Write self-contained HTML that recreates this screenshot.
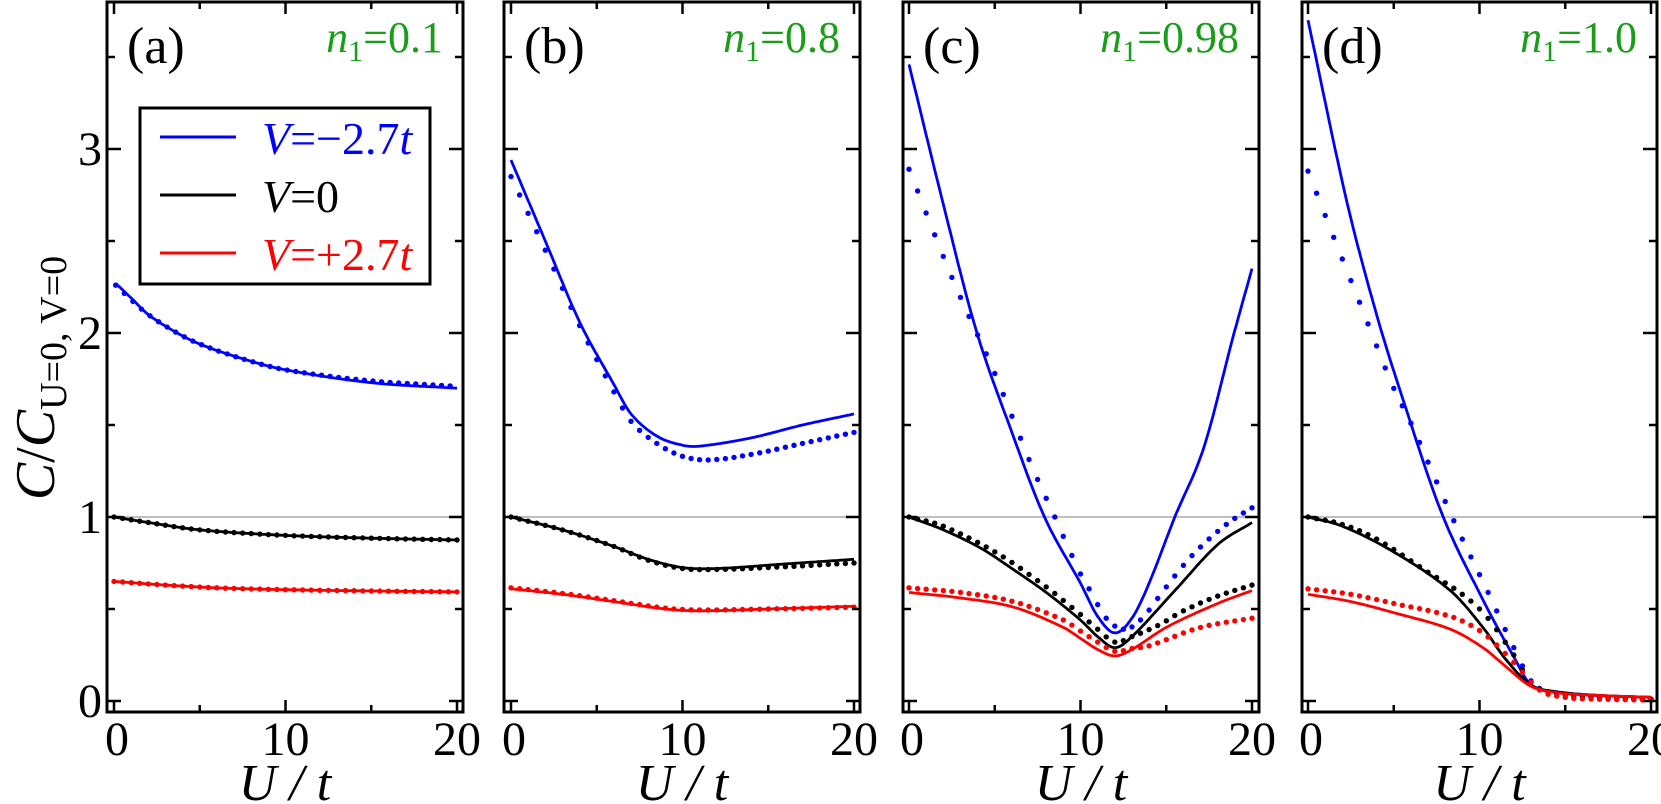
<!DOCTYPE html>
<html><head><meta charset="utf-8"><style>
html,body{margin:0;padding:0;background:#fff;}
svg{display:block;}
</style></head><body>
<svg id="s" width="1661" height="804" viewBox="0 0 1661 804" xmlns="http://www.w3.org/2000/svg" font-family="Liberation Serif, serif"></svg>
<script>
const S=document.getElementById('s');
const F='font-family="Liberation Serif, serif"';
let h='';
const panels=[
 {L:107,R:463,x0:114,lab:'(a)',n:'0.1'},
 {L:504,R:860,x0:511,lab:'(b)',n:'0.8'},
 {L:903,R:1259,x0:909,lab:'(c)',n:'0.98'},
 {L:1302,R:1657,x0:1308,lab:'(d)',n:'1.0'}];
const T=2,B=712,sx=17.15;
const Y=v=>701-v*184;
const B_='#0000ff',K='#000',Rd='#ff0000';
const data=[
 [
  [B_,0,[[0.1,2.27],[1,2.19],[2,2.1],[3.5,2.01],[5,1.94],[7.5,1.86],[10,1.8],[15,1.73],[20,1.7]]],
  [B_,1,[[0.1,2.26],[1,2.18],[2,2.1],[3.5,2.01],[5,1.94],[7.5,1.86],[10,1.8],[15,1.74],[20,1.71]]],
  [K,0,[[0,1.0],[2,0.97],[5,0.93],[10,0.9],[15,0.885],[20,0.875]]],
  [K,1,[[0,1.0],[2,0.97],[5,0.93],[10,0.9],[15,0.885],[20,0.875]]],
  [Rd,0,[[0,0.65],[3,0.63],[6,0.615],[10,0.605],[15,0.598],[20,0.593]]],
  [Rd,1,[[0,0.65],[3,0.63],[6,0.615],[10,0.605],[15,0.598],[20,0.593]]]],
 [
  [B_,0,[[0,2.94],[2,2.5],[4,2.06],[6,1.72],[7,1.56],[8.5,1.44],[10,1.39],[11,1.385],[14,1.43],[17,1.5],[20,1.56]]],
  [B_,1,[[0,2.85],[2,2.45],[4,2.04],[6,1.68],[7,1.52],[8.5,1.4],[10,1.33],[11.5,1.31],[14,1.34],[17,1.4],[20,1.46]]],
  [K,0,[[0,1.0],[3,0.93],[6,0.84],[8,0.77],[10,0.725],[12,0.72],[16,0.745],[20,0.77]]],
  [K,1,[[0,1.0],[3,0.93],[6,0.84],[8,0.765],[10,0.72],[12,0.715],[16,0.73],[20,0.75]]],
  [Rd,0,[[0,0.61],[3,0.58],[6,0.54],[9,0.5],[11,0.49],[15,0.5],[20,0.515]]],
  [Rd,1,[[0,0.615],[3,0.585],[6,0.545],[9,0.505],[11,0.495],[15,0.5],[20,0.51]]]],
 [
  [B_,0,[[0,3.46],[2,2.7],[3.9,2.02],[6,1.46],[7.9,1.0],[10,0.64],[11,0.46],[12,0.37],[13,0.45],[14,0.64],[15.5,1.0],[17.2,1.38],[18.9,1.98],[20,2.35]]],
  [B_,1,[[0,2.89],[2.6,2.28],[5,1.78],[7.1,1.29],[8.5,1.0],[10,0.69],[10.5,0.61],[11.5,0.45],[12.5,0.39],[13.5,0.44],[15,0.62],[16.5,0.79],[18.5,0.96],[20,1.05]]],
  [K,0,[[0,1.0],[2,0.93],[4.2,0.83],[6,0.72],[8,0.59],[10,0.44],[11,0.35],[12,0.29],[13,0.35],[15.5,0.6],[18,0.85],[20,0.97]]],
  [K,1,[[0,1.0],[2,0.95],[5.2,0.8],[8,0.62],[10,0.47],[11,0.39],[12,0.32],[13,0.35],[14.5,0.41],[16,0.49],[18,0.57],[20,0.63]]],
  [Rd,0,[[0,0.59],[3,0.56],[6.1,0.51],[9,0.4],[10,0.34],[11,0.28],[12,0.245],[13,0.28],[15,0.4],[18,0.53],[20,0.6]]],
  [Rd,1,[[0,0.615],[3,0.59],[6.1,0.54],[9,0.44],[10,0.38],[11,0.32],[12,0.27],[13,0.285],[14,0.3],[17,0.4],[20,0.45]]]],
 [
  [B_,0,[[0,3.7],[2.25,2.72],[4,2.1],[5.5,1.65],[7.8,1.02],[10.2,0.55],[12,0.24],[13,0.087],[14.5,0.05],[17,0.03],[20,0.02]]],
  [B_,1,[[0,2.88],[1.5,2.52],[3.5,2.05],[4.9,1.72],[6,1.51],[8.5,0.98],[10.5,0.59],[12,0.29],[13,0.11],[14,0.05],[17,0.02],[20,0.01]]],
  [K,0,[[0,1.0],[2,0.95],[5,0.81],[8.3,0.6],[10.2,0.4],[11.5,0.23],[13,0.087],[14.5,0.05],[17,0.03],[20,0.02]]],
  [K,1,[[0,1.0],[2,0.96],[4,0.88],[7,0.7],[9,0.58],[10.4,0.46],[12,0.25],[13,0.1],[14,0.05],[17,0.02],[20,0.01]]],
  [Rd,0,[[0,0.58],[2.5,0.54],[5,0.48],[8.3,0.39],[10.2,0.29],[11.5,0.19],[13,0.08],[14.5,0.045],[17,0.03],[20,0.02]]],
  [Rd,1,[[0,0.61],[2.5,0.58],[5,0.53],[8.3,0.46],[10.2,0.37],[12,0.21],[13.5,0.06],[15,0.02],[17,0.01],[20,0.005]]]]
];
function interp(p,u){
  let i=0;while(i<p.length-2&&u>p[i+1][0])i++;
  const a=p[Math.max(i-1,0)],b=p[i],c=p[i+1],d=p[Math.min(i+2,p.length-1)];
  const w=c[0]-b[0];
  const t=(u-b[0])/w;
  const m1=(c[1]-a[1])/((c[0]-a[0])||1)*w;
  const m2=(d[1]-b[1])/((d[0]-b[0])||1)*w;
  const t2=t*t,t3=t2*t;
  return (2*t3-3*t2+1)*b[1]+(t3-2*t2+t)*m1+(-2*t3+3*t2)*c[1]+(t3-t2)*m2;
}
panels.forEach((P,pi)=>{
  const X=u=>P.x0+u*sx;
  h+=`<line x1="${P.L}" y1="${Y(1)}" x2="${P.R}" y2="${Y(1)}" stroke="#999" stroke-width="1.3"/>`;
  data[pi].forEach(([col,dot,p])=>{
    const u0=p[0][0],u1=p[p.length-1][0];
    if(!dot){
      let d='';
      for(let u=u0;u<=u1+1e-6;u+=0.1){d+=(d?'L':'M')+X(u).toFixed(1)+','+Y(interp(p,u)).toFixed(1);}
      h+=`<path d="${d}" fill="none" stroke="${col}" stroke-width="2.8"/>`;
    }else{
      for(let u=u0;u<=u1+1e-6;u+=0.5){h+=`<circle cx="${X(u).toFixed(1)}" cy="${Y(interp(p,u)).toFixed(1)}" r="2.7" fill="${col}"/>`;}
    }
  });
  for(let v=0;v<=3.5;v+=0.5){
    const len=(v%1===0)?14:8,y=Y(v);
    h+=`<line x1="${P.L}" y1="${y}" x2="${P.L+len}" y2="${y}" stroke="#000" stroke-width="2.5"/>`;
    h+=`<line x1="${P.R}" y1="${y}" x2="${P.R-len}" y2="${y}" stroke="#000" stroke-width="2.5"/>`;
  }
  [0,5,10,15,20].forEach(u=>{
    const len=(u%10===0)?12:7,x=X(u);
    h+=`<line x1="${x}" y1="${B}" x2="${x}" y2="${B-len}" stroke="#000" stroke-width="2.5"/>`;
    h+=`<line x1="${x}" y1="${T}" x2="${x}" y2="${T+len}" stroke="#000" stroke-width="2.5"/>`;
    if(u%10===0)h+=`<text ${F} x="${x+(u==0?3:0)}" y="755" font-size="48" text-anchor="middle">${u}</text>`;
  });
  h+=`<rect x="${P.L}" y="${T}" width="${P.R-P.L}" height="${B-T}" fill="none" stroke="#000" stroke-width="3"/>`;
  h+=`<text ${F} x="${P.L+20}" y="63" font-size="52">${P.lab}</text>`;
  h+=`<text ${F} x="${P.R-20}" y="52" font-size="44" fill="#1a9e1a" text-anchor="end"><tspan font-style="italic">n</tspan><tspan font-size="30" dy="9">1</tspan><tspan dy="-9">=${P.n}</tspan></text>`;
  h+=`<text ${F} x="${(P.L+P.R)/2}" y="800" font-size="52" text-anchor="middle" font-style="italic">U / t</text>`;
});
[0,1,2,3].forEach(v=>{h+=`<text ${F} x="102" y="${Y(v)+16}" font-size="48" text-anchor="end">${v}</text>`;});
h+=`<rect x="140" y="108" width="290" height="176" fill="#fff" stroke="#000" stroke-width="3"/>`;
[[B_,137,'\u2212','2.7<tspan font-style="italic">t</tspan>'],[K,195,'','0'],[Rd,253,'+','2.7<tspan font-style="italic">t</tspan>']].forEach(([c,y,s,r])=>{
  h+=`<line x1="160" y1="${y}" x2="236" y2="${y}" stroke="${c}" stroke-width="3"/>`;
  h+=`<text ${F} x="262" y="${y+17}" font-size="46" fill="${c}"><tspan font-style="italic">V</tspan>=${s}${r}</text>`;
});
h+=`<text ${F} transform="translate(54,378) rotate(-90)" font-size="56" text-anchor="middle"><tspan font-style="italic">C</tspan>/<tspan font-style="italic">C</tspan><tspan font-size="38" dy="12">U=0, V=0</tspan></text>`;
S.innerHTML=h;
</script>
</body></html>
